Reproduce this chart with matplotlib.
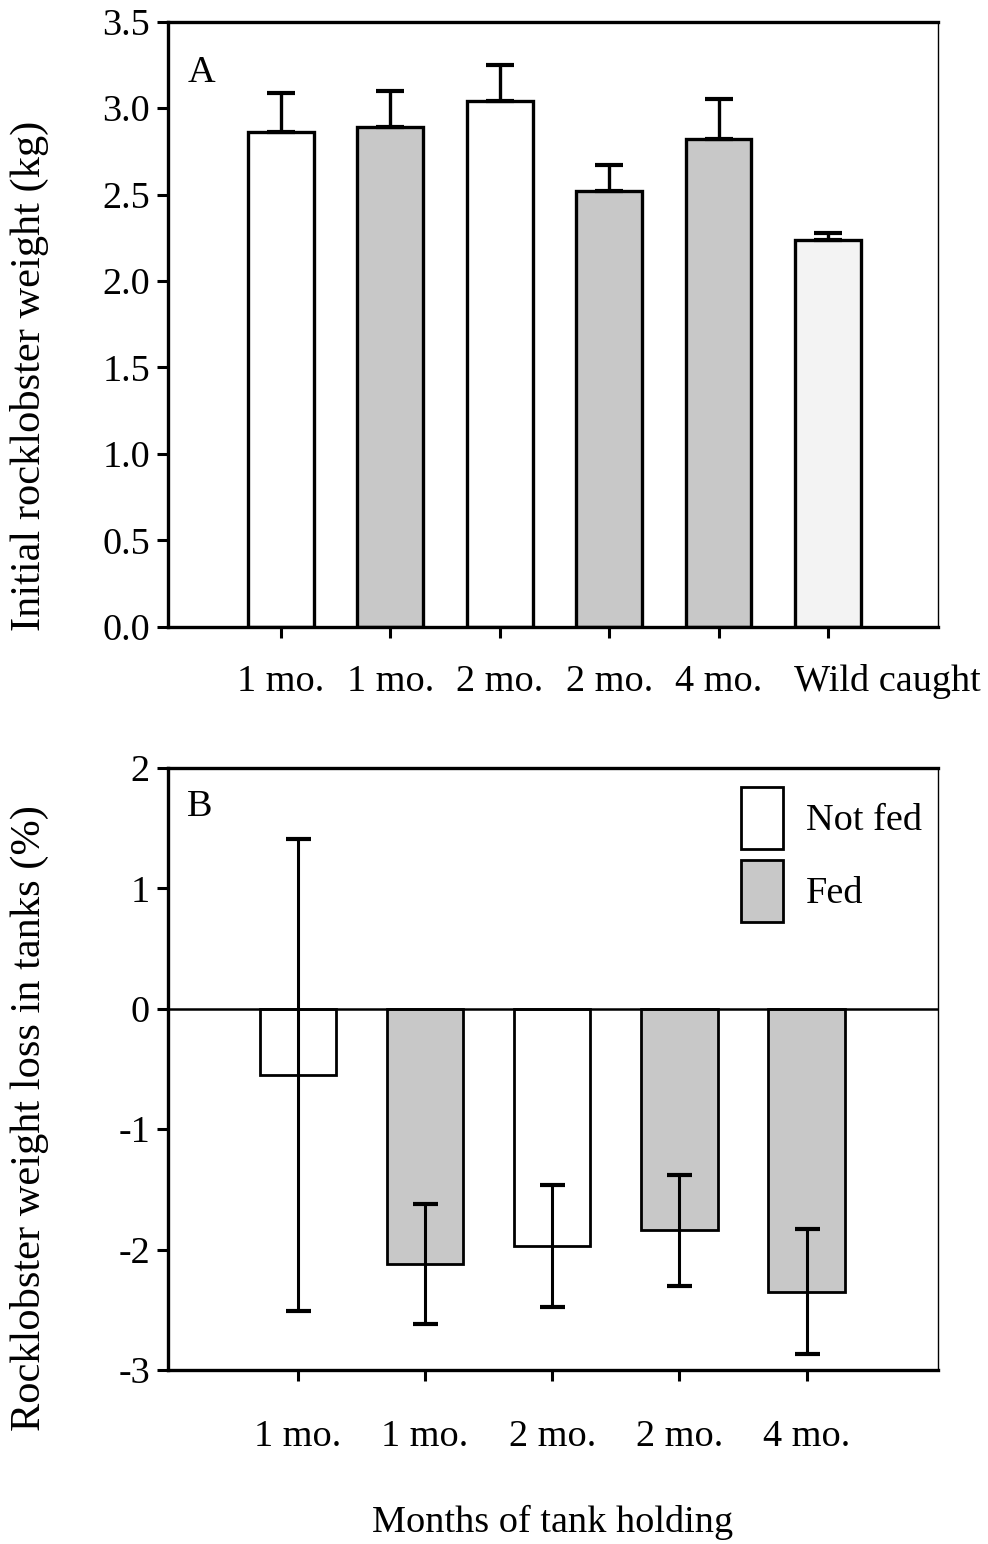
import matplotlib
matplotlib.use("Agg")
import matplotlib.pyplot as plt
import matplotlib.transforms as mtransforms
import numpy as np

plt.rcParams['font.family'] = ['Liberation Serif', 'DejaVu Serif']
plt.rcParams['axes.unicode_minus'] = False

# Panel A: initial weight of rock lobsters per treatment group
groups_a = ['1 mo.', '1 mo.', '2 mo.', '2 mo.', '4 mo.', 'Wild caught']
status_a = ['Not fed', 'Fed', 'Not fed', 'Fed', 'Fed', 'Wild']
weight_mean = [2.86, 2.89, 3.04, 2.52, 2.82, 2.24]
weight_se = [0.23, 0.21, 0.21, 0.15, 0.23, 0.04]

# Panel B: weight change while held in tanks
groups_b = ['1 mo.', '1 mo.', '2 mo.', '2 mo.', '4 mo.']
status_b = ['Not fed', 'Fed', 'Not fed', 'Fed', 'Fed']
loss_mean = [-0.55, -2.12, -1.97, -1.84, -2.35]
loss_se = [1.96, 0.50, 0.51, 0.46, 0.52]

fill = {'Not fed': 'white', 'Fed': '#c8c8c8', 'Wild': '#f3f3f3'}
FS = 27.5
FS_LABEL = 30.5

fig = plt.figure(figsize=(9.88, 15.44), dpi=100)
ax_a = fig.add_axes([0.170, 0.594, 0.779, 0.392])
ax_b = fig.add_axes([0.170, 0.1127, 0.779, 0.390])


def style_axes(ax, xpad):
    for side in ('left', 'bottom', 'top'):
        ax.spines[side].set_linewidth(2.4)
    ax.spines['right'].set_linewidth(1.0)
    ax.tick_params(axis='both', which='both', direction='out', length=8,
                   width=2.2, labelsize=FS, top=False, right=False)
    ax.tick_params(axis='x', pad=xpad)
    ax.tick_params(axis='y', pad=5)


# ---- Panel A ----
xa = np.arange(len(groups_a))
ax_a.bar(xa, weight_mean, width=0.6, color=[fill[s] for s in status_a],
         edgecolor='black', linewidth=2.4, zorder=2)
ax_a.errorbar(xa, weight_mean, yerr=[np.zeros(len(xa)), weight_se], fmt='none',
              ecolor='black', elinewidth=2.4, capsize=10, capthick=3, zorder=3)
ax_a.set_xlim(-1.03, 6.0)
ax_a.set_ylim(0, 3.5)
ax_a.set_yticks(np.arange(0, 3.51, 0.5))
ax_a.set_yticklabels([f'{v:.1f}' for v in np.arange(0, 3.51, 0.5)])
ax_a.set_xticks(xa)
ax_a.set_xticklabels(groups_a)
style_axes(ax_a, 19)
last = ax_a.get_xticklabels()[-1]
last.set_transform(last.get_transform() +
                   mtransforms.ScaledTranslation(0.59, 0, fig.dpi_scale_trans))
ax_a.set_ylabel('Initial rocklobster weight (kg)', fontsize=FS_LABEL,
                ha='center', va='center')
ax_a.yaxis.set_label_coords(-0.18, 0.415)
ax_a.text(0.025, 0.915, 'A', transform=ax_a.transAxes, fontsize=FS,
          ha='left', va='center')

# ---- Panel B ----
xb = np.arange(len(groups_b))
bars_b = ax_b.bar(xb, loss_mean, width=0.6, color=[fill[s] for s in status_b],
                  edgecolor='black', linewidth=2.0, zorder=2)
ax_b.errorbar(xb, loss_mean, yerr=loss_se, fmt='none', ecolor='black',
              elinewidth=2.2, capsize=9, capthick=3, zorder=3)
ax_b.axhline(0, color='black', linewidth=1.8, zorder=4)
ax_b.set_xlim(-1.02, 5.03)
ax_b.set_ylim(-3, 2)
ax_b.set_yticks(np.arange(-3, 3, 1))
ax_b.set_yticklabels([str(v) for v in range(-3, 3)])
ax_b.set_xticks(xb)
ax_b.set_xticklabels(groups_b)
style_axes(ax_b, 28)
ax_b.set_ylabel('Rocklobster weight loss in tanks (%)', fontsize=FS_LABEL,
                ha='center', va='center')
ax_b.yaxis.set_label_coords(-0.18, 0.419)
ax_b.set_xlabel('Months of tank holding', fontsize=FS, labelpad=36)
ax_b.text(0.025, 0.935, 'B', transform=ax_b.transAxes, fontsize=FS,
          ha='left', va='center')

legend_handles = [bars_b[0], bars_b[1]]
ax_b.legend(legend_handles, ['Not fed', 'Fed'], loc='upper right',
            bbox_to_anchor=(1.014, 1.012), frameon=False, fontsize=FS,
            handlelength=1.1, handleheight=2.1, labelspacing=0.3,
            handletextpad=0.6, borderaxespad=0.3)

fig.savefig('out.png', dpi=100)
